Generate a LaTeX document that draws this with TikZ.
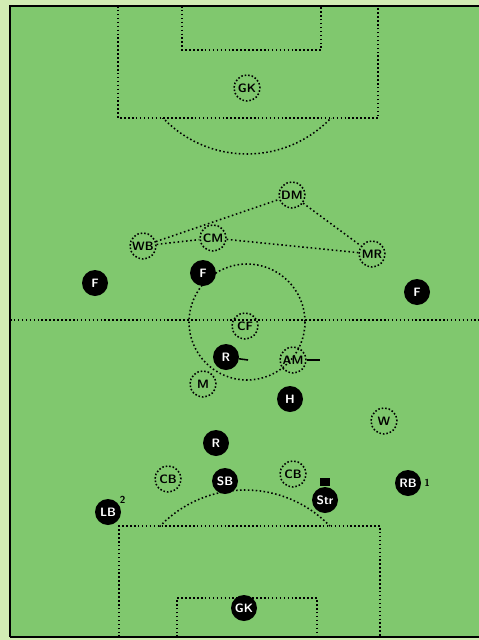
\documentclass[tikz,border=0pt]{standalone}
\usepackage{tikz}
\usetikzlibrary{positioning}
\definecolor{pitch}{RGB}{128,200,110}
\definecolor{margin}{RGB}{210,236,180}

\begin{document}
\begin{tikzpicture}[x=0.5mm,y=-0.5mm,
  home/.style={circle,fill=black,text=white,minimum size=13mm,inner sep=0pt,font=\sffamily\bfseries\LARGE},
  away/.style={circle,draw,line width=2.2pt,dash pattern=on 2.2pt off 2.8pt,minimum size=13mm,inner sep=0pt,font=\sffamily\bfseries\LARGE},
  pitchline/.style={line width=2.2pt,dash pattern=on 2.2pt off 3.4pt},
  link/.style={line width=2.2pt,dash pattern=on 2.2pt off 3.8pt}]
  \fill[margin] (0,0) rectangle (479,640);
  \useasboundingbox (0,0) rectangle (479,640);
  \fill[pitch] (10,6) rectangle (479,637);
  \draw[line width=3.5pt] (10,637) -- (10,6) -- (479,6);
  \draw[line width=3.5pt] (10,637) -- (479,637);

  % markings
  \draw[pitchline] (10,320) -- (479,320);
  \draw[pitchline] (247,322) circle [radius=58];
  \draw[pitchline] (118,6) -- (118,118) -- (378,118) -- (378,6);
  \draw[pitchline] (182,6) -- (182,50) -- (321,50) -- (321,6);
  \draw[pitchline] (119,637) -- (119,526) -- (380,526) -- (380,637);
  \draw[pitchline] (177,637) -- (177,598) -- (317,598) -- (317,637);
  \begin{scope}
    \clip (100,118) rectangle (400,200);
    \draw[pitchline] (247,38) circle [radius=116];
  \end{scope}
  \begin{scope}
    \clip (100,470) rectangle (400,526);
    \draw[pitchline] (245,608) circle [radius=118];
  \end{scope}

  % opponents
  \node [away] (GKt) at (247,88) {GK};
  \node [away] (DMt) at (292,195) {DM};
  \node [away] (WBt) at (143,246) {WB};
  \node [away] (CMt) at (213,238) {CM};
  \node [away] (MRt) at (372,254) {MR};
  \node [away] (CFt) at (245,326) {CF};
  \node [away] (AMt) at (293,360) {AM};
  \node [away] (Mt) at (203,384) {M};
  \node [away] (Wt) at (384,421) {W};
  \node [away] (CBl) at (168,479) {CB};
  \node [away] (CBr) at (293,474) {CB};

  \path[link] (WBt) edge (DMt);
  \path[link] (DMt) edge (MRt);
  \path[link] (WBt) edge (CMt);
  \path[link] (CMt) edge (MRt);

  % our side
  \node [home] (Fl) at (95,283) {F};
  \node [home] (Fc) at (203,273) {F};
  \node [home] (Fr) at (417,292) {F};
  \node [home] (Ra) at (226,357) {R};
  \node [home] (H) at (290,399) {H};
  \node [home] (Rb) at (216,443) {R};
  \node [home] (SB) at (225,481) {SB};
  \node [home] (Str) at (325,500) {Str};
  \node [home] (LB) at (108,512) {LB};
  \node [home] (RB) at (408,483) {RB};
  \node [home] (GKb) at (244,608) {GK};

  \node [right=1pt of RB,font=\sffamily\bfseries\Large] (RBn) {1};
  \node [above right=-5pt and 0pt of LB,font=\sffamily\bfseries\Large] (LBn) {2};
  \node [fill=black,minimum width=5mm,minimum height=4mm,inner sep=0pt,above=0.5pt of Str] (ball) {};
  \coordinate (AMend) at (320,360);
  \coordinate (Raend) at (248,360);
  \draw[line width=2.2pt] (AMt) -- (AMend);
  \draw[line width=2.2pt] (Ra) -- (Raend);
\end{tikzpicture}
\end{document}
